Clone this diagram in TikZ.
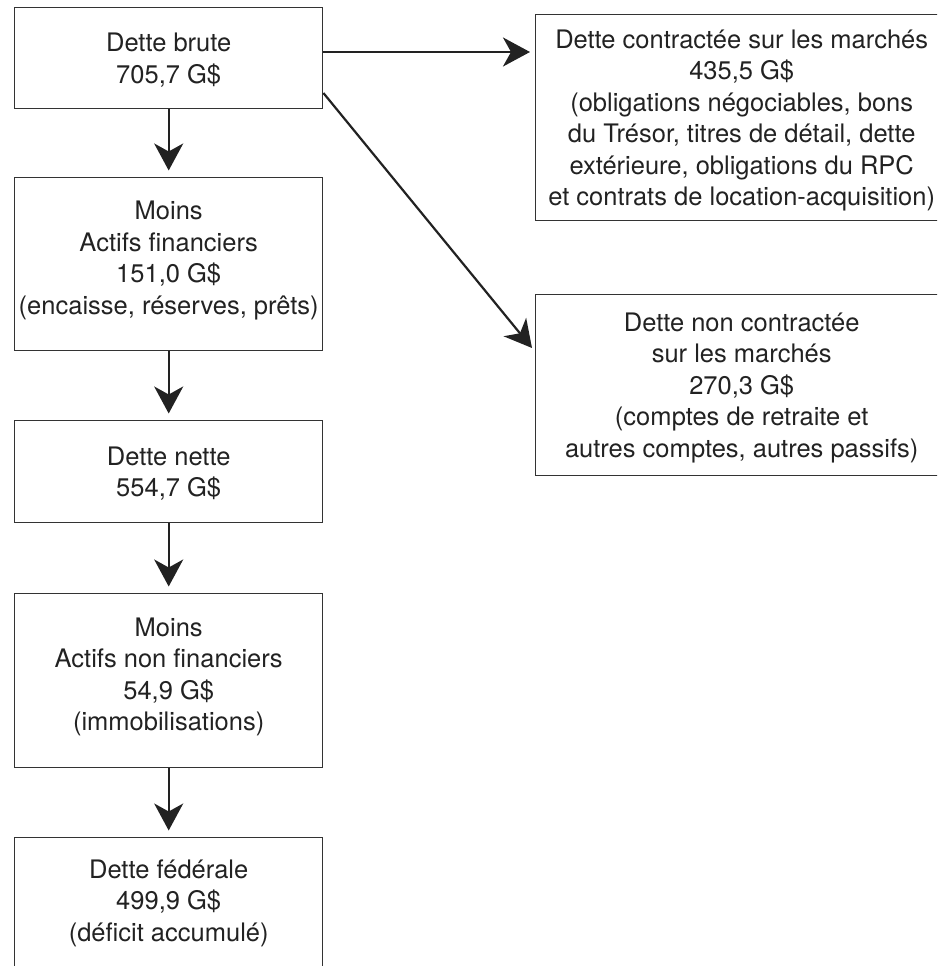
\documentclass[tikz,border=0pt]{standalone}
\usepackage{fontspec}
\setmainfont{TeX Gyre Heros}
\usetikzlibrary{arrows.meta,calc}
\definecolor{ink}{HTML}{222222}
\definecolor{edge}{HTML}{333333}
\begin{document}
\begin{tikzpicture}[x=1pt,y=-1pt,
  box/.style={draw=edge, line width=1.4pt, rectangle, inner sep=0pt,
    anchor=north west, align=center, text=ink,
    font=\fontsize{25.5}{31.5}\selectfont},
  narrow/.style={minimum width=308pt},
  wide/.style={minimum width=412pt},
  conn/.style={draw=ink, line width=2.2pt,
    -{Stealth[length=27pt,width=29pt,inset=8pt]}}]
\useasboundingbox (0,0) rectangle (937,966);
\clip (0,0) rectangle (937,966);

% left column
\node[box, narrow, minimum height=101pt, text height=49.8pt, text depth=0pt] (b1) at (14,7)
  {Dette brute\\705,7 G\$};
\node[box, narrow, minimum height=173pt, text height=112.8pt, text depth=12.5pt] (b2) at (14,177)
  {Moins\\Actifs financiers\\151,0 G\$\\(encaisse, réserves, prêts)};
\node[box, narrow, minimum height=102pt, text height=49.8pt, text depth=0pt] (b3) at (14,420)
  {Dette nette\\554,7 G\$};
\node[box, narrow, minimum height=174pt, text height=112.8pt, text depth=12.5pt] (b4) at (14,593)
  {Moins\\Actifs non financiers\\54,9 G\$\\(immobilisations)};
\node[box, narrow, minimum height=173pt, text height=81.3pt, text depth=47pt] (b5) at (14,837)
  {Dette fédérale\\499,9 G\$\\(déficit accumulé)};

% right column
\node[box, wide, minimum height=206pt, text height=175.8pt, text depth=0pt] (b6) at (535,14)
  {Dette contractée sur les marchés\\435,5 G\$\\(obligations négociables, bons\\du Trésor, titres de détail, dette\\extérieure, obligations du RPC\\et contrats de location-acquisition)};
\node[box, wide, minimum height=181pt, text height=144.3pt, text depth=0pt] (b7) at (535,294)
  {Dette non contractée\\sur les marchés\\270,3 G\$\\(comptes de retraite et\\autres comptes, autres passifs)};

% vertical connectors
\draw[conn] (b1.south) -- ($(b2.north)+(0,-6.5)$);
\draw[conn] (b2.south) -- ($(b3.north)+(0,-6.5)$);
\draw[conn] (b3.south) -- ($(b4.north)+(0,-6.5)$);
\draw[conn] (b4.south) -- ($(b5.north)+(0,-6.5)$);

% right connectors
\draw[conn] ($(b1.north east)+(0,45)$) -- ($(b6.north west)+(-5,38)$);
\draw[conn] ($(b1.north east)+(0,86)$) -- ($(b7.north west)+(-3,54)$);
\end{tikzpicture}
\end{document}
